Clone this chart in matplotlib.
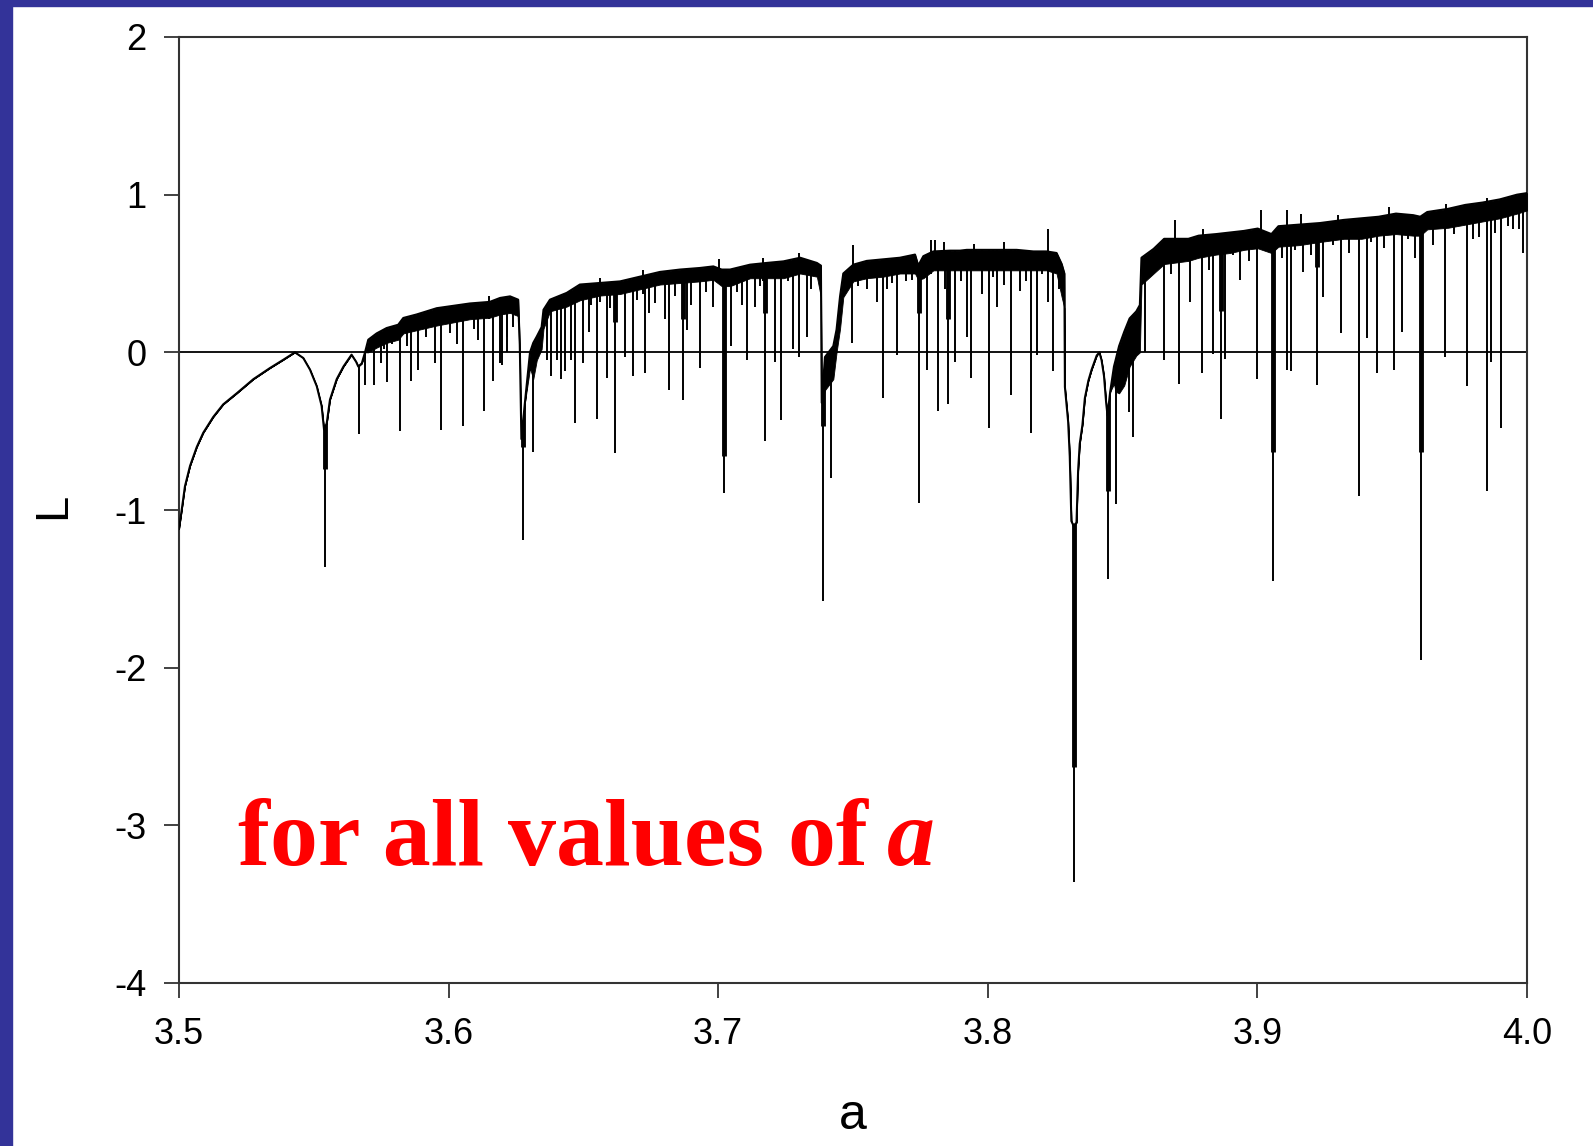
"""
Lyapunov exponent L of the logistic map against a (3.5 - 4.0), values read off the slide.
"""
import matplotlib
matplotlib.use("Agg")
import matplotlib.pyplot as plt
from matplotlib.patches import Polygon, Rectangle

# upper edge of the curve and lower edge of the dense chaotic band
env_a = [3.5000, 3.5010, 3.5022, 3.5041, 3.5066, 3.5090, 3.5127, 3.5164, 3.5214, 3.5276,
         3.5337, 3.5387, 3.5430, 3.5461, 3.5486, 3.5511, 3.5529, 3.5538, 3.5548, 3.5560,
         3.5585, 3.5610, 3.5640, 3.5657, 3.5665, 3.5678, 3.5690, 3.5702, 3.5733, 3.5770,
         3.5813, 3.5832, 3.5881, 3.5956, 3.6079, 3.6153, 3.6191, 3.6228, 3.6258, 3.6264,
         3.6270, 3.6283, 3.6302, 3.6314, 3.6327, 3.6345, 3.6352, 3.6376, 3.6438, 3.6487,
         3.6561, 3.6636, 3.6710, 3.6784, 3.6858, 3.6932, 3.6982, 3.7013, 3.7044, 3.7118,
         3.7180, 3.7242, 3.7304, 3.7366, 3.7381, 3.7384, 3.7396, 3.7427, 3.7439, 3.7452,
         3.7464, 3.7501, 3.7551, 3.7612, 3.7674, 3.7730, 3.7742, 3.7761, 3.7798, 3.7860,
         3.7897, 3.7922, 3.7996, 3.8045, 3.8107, 3.8169, 3.8218, 3.8255, 3.8274, 3.8284,
         3.8286, 3.8298, 3.8304, 3.8310, 3.8318, 3.8329, 3.8335, 3.8341, 3.8351, 3.8360,
         3.8373, 3.8385, 3.8404, 3.8414, 3.8422, 3.8431, 3.8439, 3.8444, 3.8454, 3.8468,
         3.8474, 3.8487, 3.8506, 3.8526, 3.8551, 3.8564, 3.8570, 3.8615, 3.8654, 3.8744,
         3.8782, 3.8847, 3.8898, 3.8950, 3.9001, 3.9052, 3.9078, 3.9155, 3.9232, 3.9321,
         3.9386, 3.9450, 3.9514, 3.9578, 3.9604, 3.9630, 3.9707, 3.9771, 3.9835, 3.9899,
         3.9963, 4.0000]
env_top = [-1.12, -1.00, -0.85, -0.72, -0.60, -0.51, -0.41, -0.33, -0.26, -0.17,
           -0.10, -0.047, 0.0, -0.036, -0.11, -0.215, -0.34, -0.49, -0.45, -0.30,
           -0.17, -0.09, -0.015, -0.06, -0.09, -0.07, 0.0, 0.08, 0.12, 0.154,
           0.175, 0.218, 0.24, 0.28, 0.31, 0.32, 0.345, 0.355, 0.334, 0.05,
           -0.55, -0.32, 0.0, 0.06, 0.10, 0.16, 0.27, 0.334, 0.377, 0.43,
           0.44, 0.45, 0.48, 0.51, 0.525, 0.535, 0.545, 0.525, 0.525, 0.556,
           0.567, 0.577, 0.60, 0.567, 0.55, -0.32, -0.03, 0.04, 0.144, 0.355,
           0.50, 0.556, 0.58, 0.59, 0.60, 0.62, 0.55, 0.61, 0.64, 0.645,
           0.645, 0.65, 0.65, 0.65, 0.65, 0.64, 0.64, 0.63, 0.56, 0.50,
           -0.22, -0.44, -0.66, -1.07, -1.10, -1.08, -0.75, -0.58, -0.46, -0.29,
           -0.18, -0.11, -0.02, 0.0, -0.05, -0.15, -0.32, -0.40, -0.25, -0.09,
           -0.05, 0.04, 0.13, 0.215, 0.26, 0.30, 0.60, 0.656, 0.72, 0.72,
           0.74, 0.75, 0.76, 0.77, 0.785, 0.75, 0.80, 0.81, 0.82, 0.84,
           0.85, 0.86, 0.88, 0.87, 0.86, 0.89, 0.91, 0.935, 0.95, 0.97,
           1.00, 1.01]
env_low = [-1.12, -1.00, -0.85, -0.72, -0.60, -0.51, -0.41, -0.33, -0.26, -0.17,
           -0.10, -0.047, 0.0, -0.036, -0.11, -0.215, -0.34, -0.49, -0.45, -0.30,
           -0.17, -0.09, -0.015, -0.06, -0.09, -0.07, 0.0, 0.0, 0.03, 0.06,
           0.08, 0.12, 0.14, 0.17, 0.21, 0.22, 0.24, 0.25, 0.23, -0.10,
           -0.55, -0.32, -0.10, -0.17, -0.05, 0.02, 0.15, 0.26, 0.29, 0.33,
           0.36, 0.37, 0.40, 0.43, 0.44, 0.45, 0.46, 0.42, 0.42, 0.47,
           0.47, 0.47, 0.50, 0.48, 0.35, -0.32, -0.24, -0.17, 0.0, 0.15,
           0.35, 0.45, 0.47, 0.48, 0.50, 0.50, 0.46, 0.47, 0.52, 0.52,
           0.52, 0.52, 0.52, 0.52, 0.52, 0.52, 0.52, 0.50, 0.35, 0.28,
           -0.22, -0.44, -0.66, -1.07, -1.10, -1.08, -0.75, -0.58, -0.46, -0.29,
           -0.18, -0.11, -0.02, 0.0, -0.05, -0.15, -0.32, -0.40, -0.25, -0.20,
           -0.25, -0.26, -0.21, -0.09, -0.02, 0.0, 0.43, 0.50, 0.56, 0.58,
           0.60, 0.62, 0.63, 0.65, 0.66, 0.63, 0.67, 0.68, 0.70, 0.72,
           0.72, 0.74, 0.75, 0.74, 0.74, 0.78, 0.79, 0.81, 0.83, 0.85,
           0.88, 0.90]

# thin downward spikes (periodic windows): position and lowest value
spike_a = [3.5542, 3.5668, 3.5690, 3.5723, 3.5748, 3.5770, 3.5820, 3.5859, 3.5888, 3.5949,
           3.5971, 3.6052, 3.6131, 3.6163, 3.6191, 3.6218, 3.6197, 3.6215, 3.6275, 3.6312,
           3.6364, 3.6380, 3.6401, 3.6417, 3.6432, 3.6454, 3.6469, 3.6500, 3.6522, 3.6549,
           3.6586, 3.6617, 3.6654, 3.6685, 3.6728, 3.6766, 3.6803, 3.6819, 3.6868, 3.6883,
           3.6932, 3.6980, 3.7023, 3.7047, 3.7105, 3.7136, 3.7173, 3.7210, 3.7233, 3.7278,
           3.7299, 3.7328, 3.7387, 3.7418, 3.7497, 3.7551, 3.7588, 3.7610, 3.7643, 3.7664,
           3.7697, 3.7745, 3.7774, 3.7817, 3.7854, 3.7878, 3.7922, 3.7938, 3.7977, 3.8004,
           3.8033, 3.8085, 3.8119, 3.8159, 3.8184, 3.8224, 3.8243, 3.8318, 3.8446, 3.8475,
           3.8524, 3.8537, 3.8584, 3.8655, 3.8708, 3.8750, 3.8796, 3.8834, 3.8864, 3.8879,
           3.8937, 3.8999, 3.9059, 3.9108, 3.9123, 3.9168, 3.9220, 3.9245, 3.9309, 3.9376,
           3.9406, 3.9442, 3.9508, 3.9538, 3.9585, 3.9608, 3.9695, 3.9778, 3.9823, 3.9851,
           3.9868, 3.9903, 3.9949, 3.9986,
           # shorter spikes that roughen the band
           3.5760, 3.5790, 3.5845, 3.5915, 3.6005, 3.6030, 3.6095, 3.6110, 3.6240, 3.6340,
           3.6530, 3.6600, 3.6700, 3.6745, 3.6840, 3.6900, 3.6955, 3.7070, 3.7090, 3.7155,
           3.7260, 3.7345, 3.7520, 3.7580, 3.7625, 3.7720, 3.7790, 3.7840, 3.7900, 3.7955,
           3.8020, 3.8060, 3.8100, 3.8140, 3.8200, 3.8265, 3.8630, 3.8680, 3.8730, 3.8820,
           3.8910, 3.8970, 3.9030, 3.9090, 3.9140, 3.9200, 3.9280, 3.9340, 3.9420, 3.9470,
           3.9560, 3.9650, 3.9730, 3.9800, 3.9880, 3.9930, 3.9970]
spike_low = [-1.36, -0.52, -0.21, -0.21, -0.07, -0.19, -0.50, -0.18, -0.11, -0.07,
             -0.49, -0.47, -0.37, -0.18, -0.07, 0.0, -0.08, 0.10, -1.19, -0.63,
             -0.05, -0.15, -0.05, -0.17, -0.12, -0.05, -0.45, -0.07, 0.13, -0.42,
             -0.16, -0.64, -0.03, -0.15, -0.13, 0.31, 0.21, -0.24, -0.30, 0.14,
             -0.10, 0.29, -0.89, 0.04, -0.05, 0.29, -0.56, -0.06, -0.43, 0.02,
             -0.03, 0.10, -1.58, -0.80, 0.06, 0.40, 0.32, -0.29, 0.44, -0.02,
             0.45, -0.955, -0.11, -0.37, -0.33, -0.06, 0.10, -0.16, 0.37, -0.48,
             0.29, -0.27, 0.39, -0.51, -0.02, 0.32, -0.12, -3.36, -1.44, -0.96,
             -0.38, -0.54, 0.0, -0.05, -0.20, 0.32, -0.13, -0.01, -0.42, -0.04,
             0.46, -0.17, -1.45, -0.11, -0.12, 0.51, -0.21, 0.35, 0.12, -0.91,
             0.09, -0.13, -0.11, 0.13, 0.60, -1.95, -0.03, -0.215, 0.73, -0.88,
             -0.06, -0.48, 0.78, 0.63,
             0.02, 0.05, 0.04, 0.10, 0.12, 0.05, 0.15, 0.08, 0.16, 0.05,
             0.30, 0.28, 0.33, 0.25, 0.36, 0.30, 0.38, 0.38, 0.30, 0.42,
             0.45, 0.40, 0.42, 0.47, 0.40, 0.46, 0.50, 0.40, 0.45, 0.52,
             0.48, 0.43, 0.52, 0.45, 0.50, 0.40, 0.55, 0.50, 0.60, 0.52,
             0.62, 0.58, 0.64, 0.60, 0.65, 0.62, 0.68, 0.63, 0.70, 0.66,
             0.72, 0.68, 0.75, 0.72, 0.76, 0.80, 0.78]

# dense cores of the widest windows and dark clusters
core_a = [3.5542, 3.6275, 3.7023, 3.7387, 3.8318, 3.8446, 3.9059, 3.9608,
          3.6617, 3.6868, 3.7173, 3.7745, 3.7854, 3.8864, 3.9220]
core_low = [-0.74, -0.60, -0.66, -0.47, -2.63, -0.88, -0.63, -0.63,
            0.19, 0.21, 0.25, 0.25, 0.21, 0.26, 0.54]

# short upward ticks poking out of the band
up_a = [3.6150, 3.6560, 3.6720, 3.7002, 3.7167, 3.7300, 3.7499, 3.7789, 3.7805,
        3.7836, 3.7950, 3.8060, 3.8224, 3.8693, 3.8800, 3.9012, 3.9108, 3.9162,
        3.9300, 3.9489, 3.9700, 3.9850]
up_high = [0.36, 0.47, 0.52, 0.59, 0.60, 0.63, 0.68, 0.715, 0.715,
           0.70, 0.69, 0.70, 0.78, 0.84, 0.78, 0.90, 0.90, 0.88,
           0.87, 0.92, 0.94, 0.98]

x_ticks = [3.5, 3.6, 3.7, 3.8, 3.9, 4.0]
y_ticks = [-4, -3, -2, -1, 0, 1, 2]

plt.rcParams["font.family"] = ["Liberation Sans", "DejaVu Sans"]
plt.rcParams["axes.unicode_minus"] = False

W, H = 1593, 1146
fig = plt.figure(figsize=(W / 100, H / 100), dpi=100)
fig.patch.set_facecolor("white")

# slide frame (blue strips top and left)
frame = "#333399"
fig.patches.append(Rectangle((0, 1 - 6 / H), 1, 6 / H, transform=fig.transFigure,
                             color=frame, zorder=0))
fig.patches.append(Rectangle((0, 0), 12 / W, 1, transform=fig.transFigure,
                             color=frame, zorder=0))

ax = fig.add_axes([179 / W, 163 / H, 1348 / W, 946 / H])
ax.set_xlim(3.5, 4.0)
ax.set_ylim(-4, 2)

ax.axhline(0, color="black", lw=1.3, zorder=2)

ax.fill_between(env_a, env_low, env_top, color="black", lw=0.6, zorder=3)
ax.plot(env_a, env_top, color="black", lw=1.5, zorder=4)

# spikes only below the curve
clip = Polygon(list(zip(env_a, env_top)) + [(4.0, -4.5), (3.5, -4.5)],
               closed=True, transform=ax.transData)
sp = ax.vlines(spike_a, spike_low, 2.0, color="black", lw=1.4, zorder=3)
sp.set_clip_path(clip)
cr = ax.vlines(core_a, core_low, 2.0, color="black", lw=3.5, zorder=3)
cr.set_clip_path(clip)
ax.vlines(up_a, [v - 0.15 for v in up_high], up_high, color="black", lw=1.4, zorder=3)

for s in ax.spines.values():
    s.set_color("#333333")
    s.set_linewidth(1.5)

ax.set_xticks(x_ticks)
ax.set_xticklabels([f"{v:.1f}" for v in x_ticks])
ax.set_yticks(y_ticks)
ax.set_yticklabels([str(v) for v in y_ticks])
ax.tick_params(direction="out", length=10.5, width=1.3, color="#333333",
               labelsize=26, top=False, right=False)
ax.tick_params(axis="x", pad=14)
ax.tick_params(axis="y", pad=13)

ax.set_xlabel("a", fontsize=36)
ax.xaxis.set_label_coords(0.5, (17 - 163) / 946)
ax.xaxis.label.set_verticalalignment("baseline")
ax.set_ylabel("L", fontsize=34)
ax.yaxis.set_label_coords((53 - 179) / 1348, 0.504)
ax.yaxis.label.set_verticalalignment("center")
ax.yaxis.label.set_horizontalalignment("center")

t1 = fig.text(238 / W, (H - 865) / H, "for all values of", color="red",
              fontfamily="Liberation Serif", fontweight="bold", fontsize=69,
              va="baseline", ha="left")
ax.annotate("a", xy=(1, 0), xycoords=t1, xytext=(14, 0), textcoords="offset points",
            color="red", fontfamily="Liberation Serif", fontweight="bold",
            fontstyle="italic", fontsize=69, va="bottom", ha="left",
            annotation_clip=False)

fig.savefig("out.png", dpi=100)
plt.close(fig)
